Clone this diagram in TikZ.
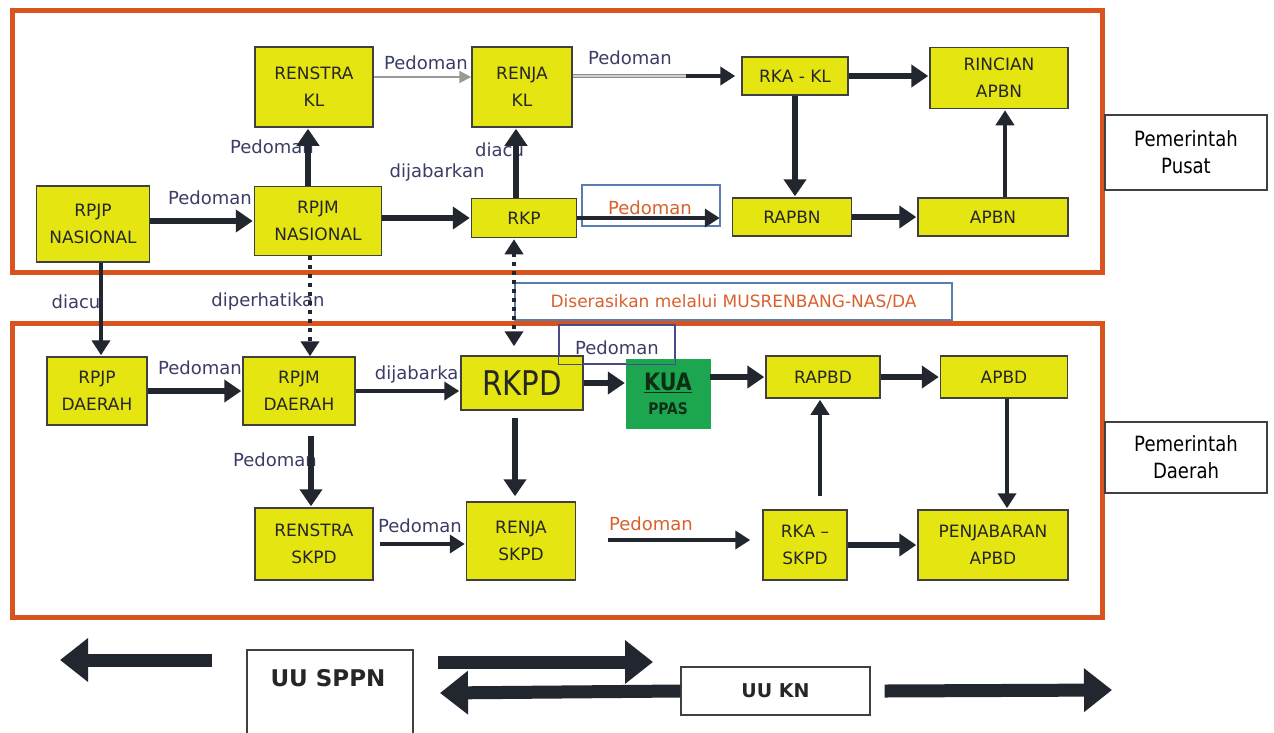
\documentclass[tikz,border=0pt]{standalone}
\usepackage{fontspec}
\setmainfont{DejaVu Sans}
\newfontfamily\narrowf[FakeStretch=0.86]{DejaVu Sans}
\usetikzlibrary{arrows.meta}
\definecolor{framec}{HTML}{D9531E}
\definecolor{yboxc}{HTML}{E5E512}
\definecolor{gboxc}{HTML}{1DA650}
\definecolor{labc}{HTML}{3B3D66}
\definecolor{olabc}{HTML}{D8612E}
\definecolor{blinec}{HTML}{5A7DB0}
\definecolor{plinec}{HTML}{4A4A8A}
\definecolor{darkc}{HTML}{22262E}
\definecolor{kuatext}{HTML}{0E2E14}
\begin{document}
\begin{tikzpicture}[x=1pt,y=-1pt,
  yb/.style={draw=black!75, line width=1.5pt, fill=yboxc, align=center, inner sep=0pt, text=black!85, font=\fontsize{17}{27}\selectfont},
  lb/.style={text=labc, inner sep=0pt, font=\fontsize{18}{20}\selectfont},
  ol/.style={lb, text=olabc},
  wb/.style={draw=black!75, line width=1.5pt, fill=white, align=center, inner sep=0pt},
  frm/.style={draw=framec, line width=5pt},
  ab/.style={draw=darkc, line width=6pt, -{Triangle[length=17pt,width=22pt]}, shorten >=1pt},
  am/.style={draw=darkc, line width=4pt, -{Triangle[length=15pt,width=18pt]}, shorten >=1pt},
  dt/.style={draw=darkc, line width=4pt, dash pattern=on 4pt off 5pt},
  gr/.style={draw=black!40, line width=2pt, -{Triangle[length=12pt,width=12pt]}},
  gband/.style={draw=black!45, double=black!18, double distance=1.6pt, line width=1.3pt},
  big/.style={draw=darkc, line width=13pt, -{Triangle[length=28pt,width=42pt]}}
]
\useasboundingbox (0,0) rectangle (1274,732);
\fill[white] (0,0) rectangle (1274,732);

% frames
\draw[frm] (12,10) rectangle (1102,272);
\draw[frm] (12,323) rectangle (1102,617);

% side labels
\node[wb, minimum width=162pt, minimum height=75pt, font=\narrowf\fontsize{21}{27}\selectfont] (pusat) at (1186,152.5) {Pemerintah\\Pusat};
\node[wb, minimum width=162pt, minimum height=71pt, font=\narrowf\fontsize{21}{27}\selectfont] (daerah) at (1186,457.5) {Pemerintah\\Daerah};

% outlined label boxes
\node[draw=blinec, line width=1.2pt, fill=white, minimum width=138pt, minimum height=41pt, inner sep=0pt] (pbox1) at (651,205.5) {};
\node[draw=blinec, line width=1.2pt, fill=white, minimum width=437pt, minimum height=37pt, inner sep=0pt, text=olabc, font=\fontsize{17}{20}\selectfont] (seras) at (733.5,301.5) {Diserasikan melalui MUSRENBANG-NAS/DA};
\node[draw=plinec, line width=1.2pt, fill=white, minimum width=116pt, minimum height=39pt, inner sep=0pt] (pbox2) at (617,344.5) {};

% labels (drawn before nodes/arrows that hide parts)
\node[lb] (l1) at (210,198) {Pedoman};
\node[lb] (l2) at (437,173) {dijabarkan};
\node[lb, anchor=east] (l3) at (314,147) {Pedoman};
\node[lb, anchor=west] (l4) at (475,150) {diacu};
\node[lb] (l5) at (426,63) {Pedoman};
\node[lb] (l6) at (630,58) {Pedoman};
\node[ol] (l7) at (650,208) {Pedoman};
\node[lb] (l8) at (76,302) {diacu};
\node[lb] (l9) at (268,302) {diperhatikan};
\node[lb] (l10) at (617,348) {Pedoman};
\node[lb] (l11) at (200,368) {Pedoman};
\node[lb, anchor=east] (l12) at (470,375) {dijabarkan};
\node[lb, anchor=east] (l13) at (317,460) {Pedoman};
\node[lb] (l14) at (420,526) {Pedoman};
\node[ol] (l15) at (651,524) {Pedoman};

% top nodes
\node[yb, minimum width=118pt, minimum height=80pt] (renstrakl) at (314,87) {RENSTRA\\KL};
\node[yb, minimum width=100pt, minimum height=80pt] (renjakl) at (522,87) {RENJA\\KL};
\node[yb, minimum width=106pt, minimum height=38pt] (rkakl) at (795,76) {RKA - KL};
\node[yb, minimum width=138pt, minimum height=61pt] (rincian) at (999,78) {RINCIAN\\APBN};
\node[yb, minimum width=113pt, minimum height=76pt] (rpjpn) at (93,224) {RPJP\\NASIONAL};
\node[yb, minimum width=127pt, minimum height=69pt] (rpjmn) at (318,221) {RPJM\\NASIONAL};
\node[yb, minimum width=105pt, minimum height=39pt] (rkp) at (524,218) {RKP};
\node[yb, minimum width=119pt, minimum height=38pt] (rapbn) at (792,217) {RAPBN};
\node[yb, minimum width=150pt, minimum height=38pt] (apbn) at (993,217) {APBN};

% lower nodes
\node[yb, minimum width=100pt, minimum height=68pt] (rpjpd) at (97,391) {RPJP\\DAERAH};
\node[yb, minimum width=112pt, minimum height=68pt] (rpjmd) at (299,391) {RPJM\\DAERAH};
\node[yb, minimum width=122pt, minimum height=54pt, font=\narrowf\fontsize{34}{40}\selectfont] (rkpd) at (522,383) {RKPD};
\node[draw=gboxc, fill=gboxc, minimum width=84pt, minimum height=69pt, inner sep=0pt, align=center, text=kuatext, font=\fontsize{14}{24}\selectfont] (kua) at (668,393.5) {{\bfseries\narrowf\fontsize{24}{24}\selectfont\underline{KUA}}\\{\bfseries\narrowf\fontsize{16}{24}\selectfont PPAS}};
\node[yb, minimum width=114pt, minimum height=42pt] (rapbd) at (823,377) {RAPBD};
\node[yb, minimum width=127pt, minimum height=42pt] (apbd) at (1004,377) {APBD};
\node[yb, minimum width=118pt, minimum height=72pt] (renstraskpd) at (314,544) {RENSTRA\\SKPD};
\node[yb, minimum width=109pt, minimum height=78pt] (renjaskpd) at (521,541) {RENJA\\SKPD};
\node[yb, minimum width=84pt, minimum height=70pt] (rkaskpd) at (805,545) {RKA --\\SKPD};
\node[yb, minimum width=150pt, minimum height=70pt] (penjabaran) at (993,545) {PENJABARAN\\APBD};

% outline of lower Pedoman box over RKPD
\draw[draw=plinec, line width=1.2pt] (pbox2.north west) rectangle (pbox2.south east);

% coordinates for shifted connectors
\coordinate (a1) at ([xshift=-6pt]renstrakl.south);
\coordinate (a2) at ([xshift=-6pt]renjakl.south);
\coordinate (a3) at ([xshift=6pt]rincian.south);
\coordinate (a4) at ([xshift=4pt]rpjpd.north);
\coordinate (a5) at ([xshift=11pt]rpjmd.north);
\coordinate (a6) at ([xshift=-8pt]rkpd.north);
\coordinate (a7) at ([xshift=-3pt]renstraskpd.north);
\coordinate (a8) at ([xshift=-6pt]renjaskpd.north);
\coordinate (a9) at ([xshift=15pt]rkaskpd.north);
\coordinate (a10) at ([xshift=14pt]penjabaran.north);
\coordinate (g1) at (686,76);

% top connectors
\draw[ab] (rpjpn.east |- rpjmn.west) -- (rpjmn.west);
\draw[ab] (rpjmn.east |- rkp.west) -- (rkp.west);
\draw[ab] (a1 |- rpjmn.north) -- (a1);
\draw[ab] (a2 |- rkp.north) -- (a2);
\draw[gr] ([yshift=10pt]renstrakl.east) -- ([yshift=10pt]renjakl.west);
\draw[gband] ([yshift=11pt]renjakl.east) -- (g1);
\draw[am, shorten >=6pt] (g1) -- (rkakl.west);
\draw[ab] (rkakl.east) -- (rkakl.east -| rincian.west);
\draw[ab] (rkakl.south) -- (rkakl.south |- rapbn.north);
\draw[am, shorten >=12pt] (rkp.east) -- (rapbn.west |- rkp.east);
\draw[ab] (rapbn.east) -- (apbn.west);
\draw[am] (a3 |- apbn.north) -- (a3);

% between
\draw[am] (a4 |- rpjpn.south) -- (a4);
\draw[dt, -{Triangle[length=15pt,width=18pt]}] (a5 |- rpjmn.south) -- (a5);
\draw[dt, {Triangle[length=15pt,width=18pt]}-{Triangle[length=15pt,width=18pt]}, shorten >=9pt, shorten <=1pt] (a6 |- rkp.south) -- (a6);

% lower connectors
\draw[ab] (rpjpd.east) -- (rpjmd.west);
\draw[am] (rpjmd.east) -- (rkpd.west |- rpjmd.east);
\draw[ab] (rkpd.east) -- (rkpd.east -| kua.west);
\draw[ab] (kua.east |- rapbd.west) -- (rapbd.west);
\draw[ab] (rapbd.east) -- (apbd.west);
\draw[ab, shorten <=10pt] (a7 |- rpjmd.south) -- (a7);
\draw[ab, shorten <=7pt, shorten >=5pt] (a8 |- rkpd.south) -- (a8);
\draw[am, shorten <=6pt] (renstraskpd.east) -- (renstraskpd.east -| renjaskpd.west);
\draw[am, shorten <=32pt, shorten >=12pt] ([yshift=1pt]renjaskpd.east) -- ([yshift=1pt]renjaskpd.east -| rkaskpd.west);
\draw[am, shorten <=13pt] (a9) -- (a9 |- rapbd.south);
\draw[am] (a10 |- apbd.south) -- (a10);
\draw[ab] (rkaskpd.east) -- (penjabaran.west);

% bottom
\node[wb, line width=1.2pt, minimum width=166pt, minimum height=92pt] (sppnbox) at (330,696) {};
\node[font=\bfseries\fontsize{23}{26}\selectfont, text=black!85] (sppn) at (328,678) {UU SPPN};
\node[wb, line width=1.2pt, minimum width=189pt, minimum height=48pt, font=\bfseries\fontsize{19}{22}\selectfont, text=black!85] (uukn) at (775.5,691) {UU KN};
\coordinate (b1) at (212,660);
\coordinate (b2) at (60,660);
\coordinate (b3) at (438,662);
\coordinate (b4) at (653,662);
\coordinate (b5) at (440,693);
\coordinate (b6) at (1112,690);
\draw[big] (b1) -- (b2);
\draw[big] (b3) -- (b4);
\draw[big] (uukn.west) -- (b5);
\draw[big] ([xshift=14pt]uukn.east) -- (b6);
\end{tikzpicture}
\end{document}
